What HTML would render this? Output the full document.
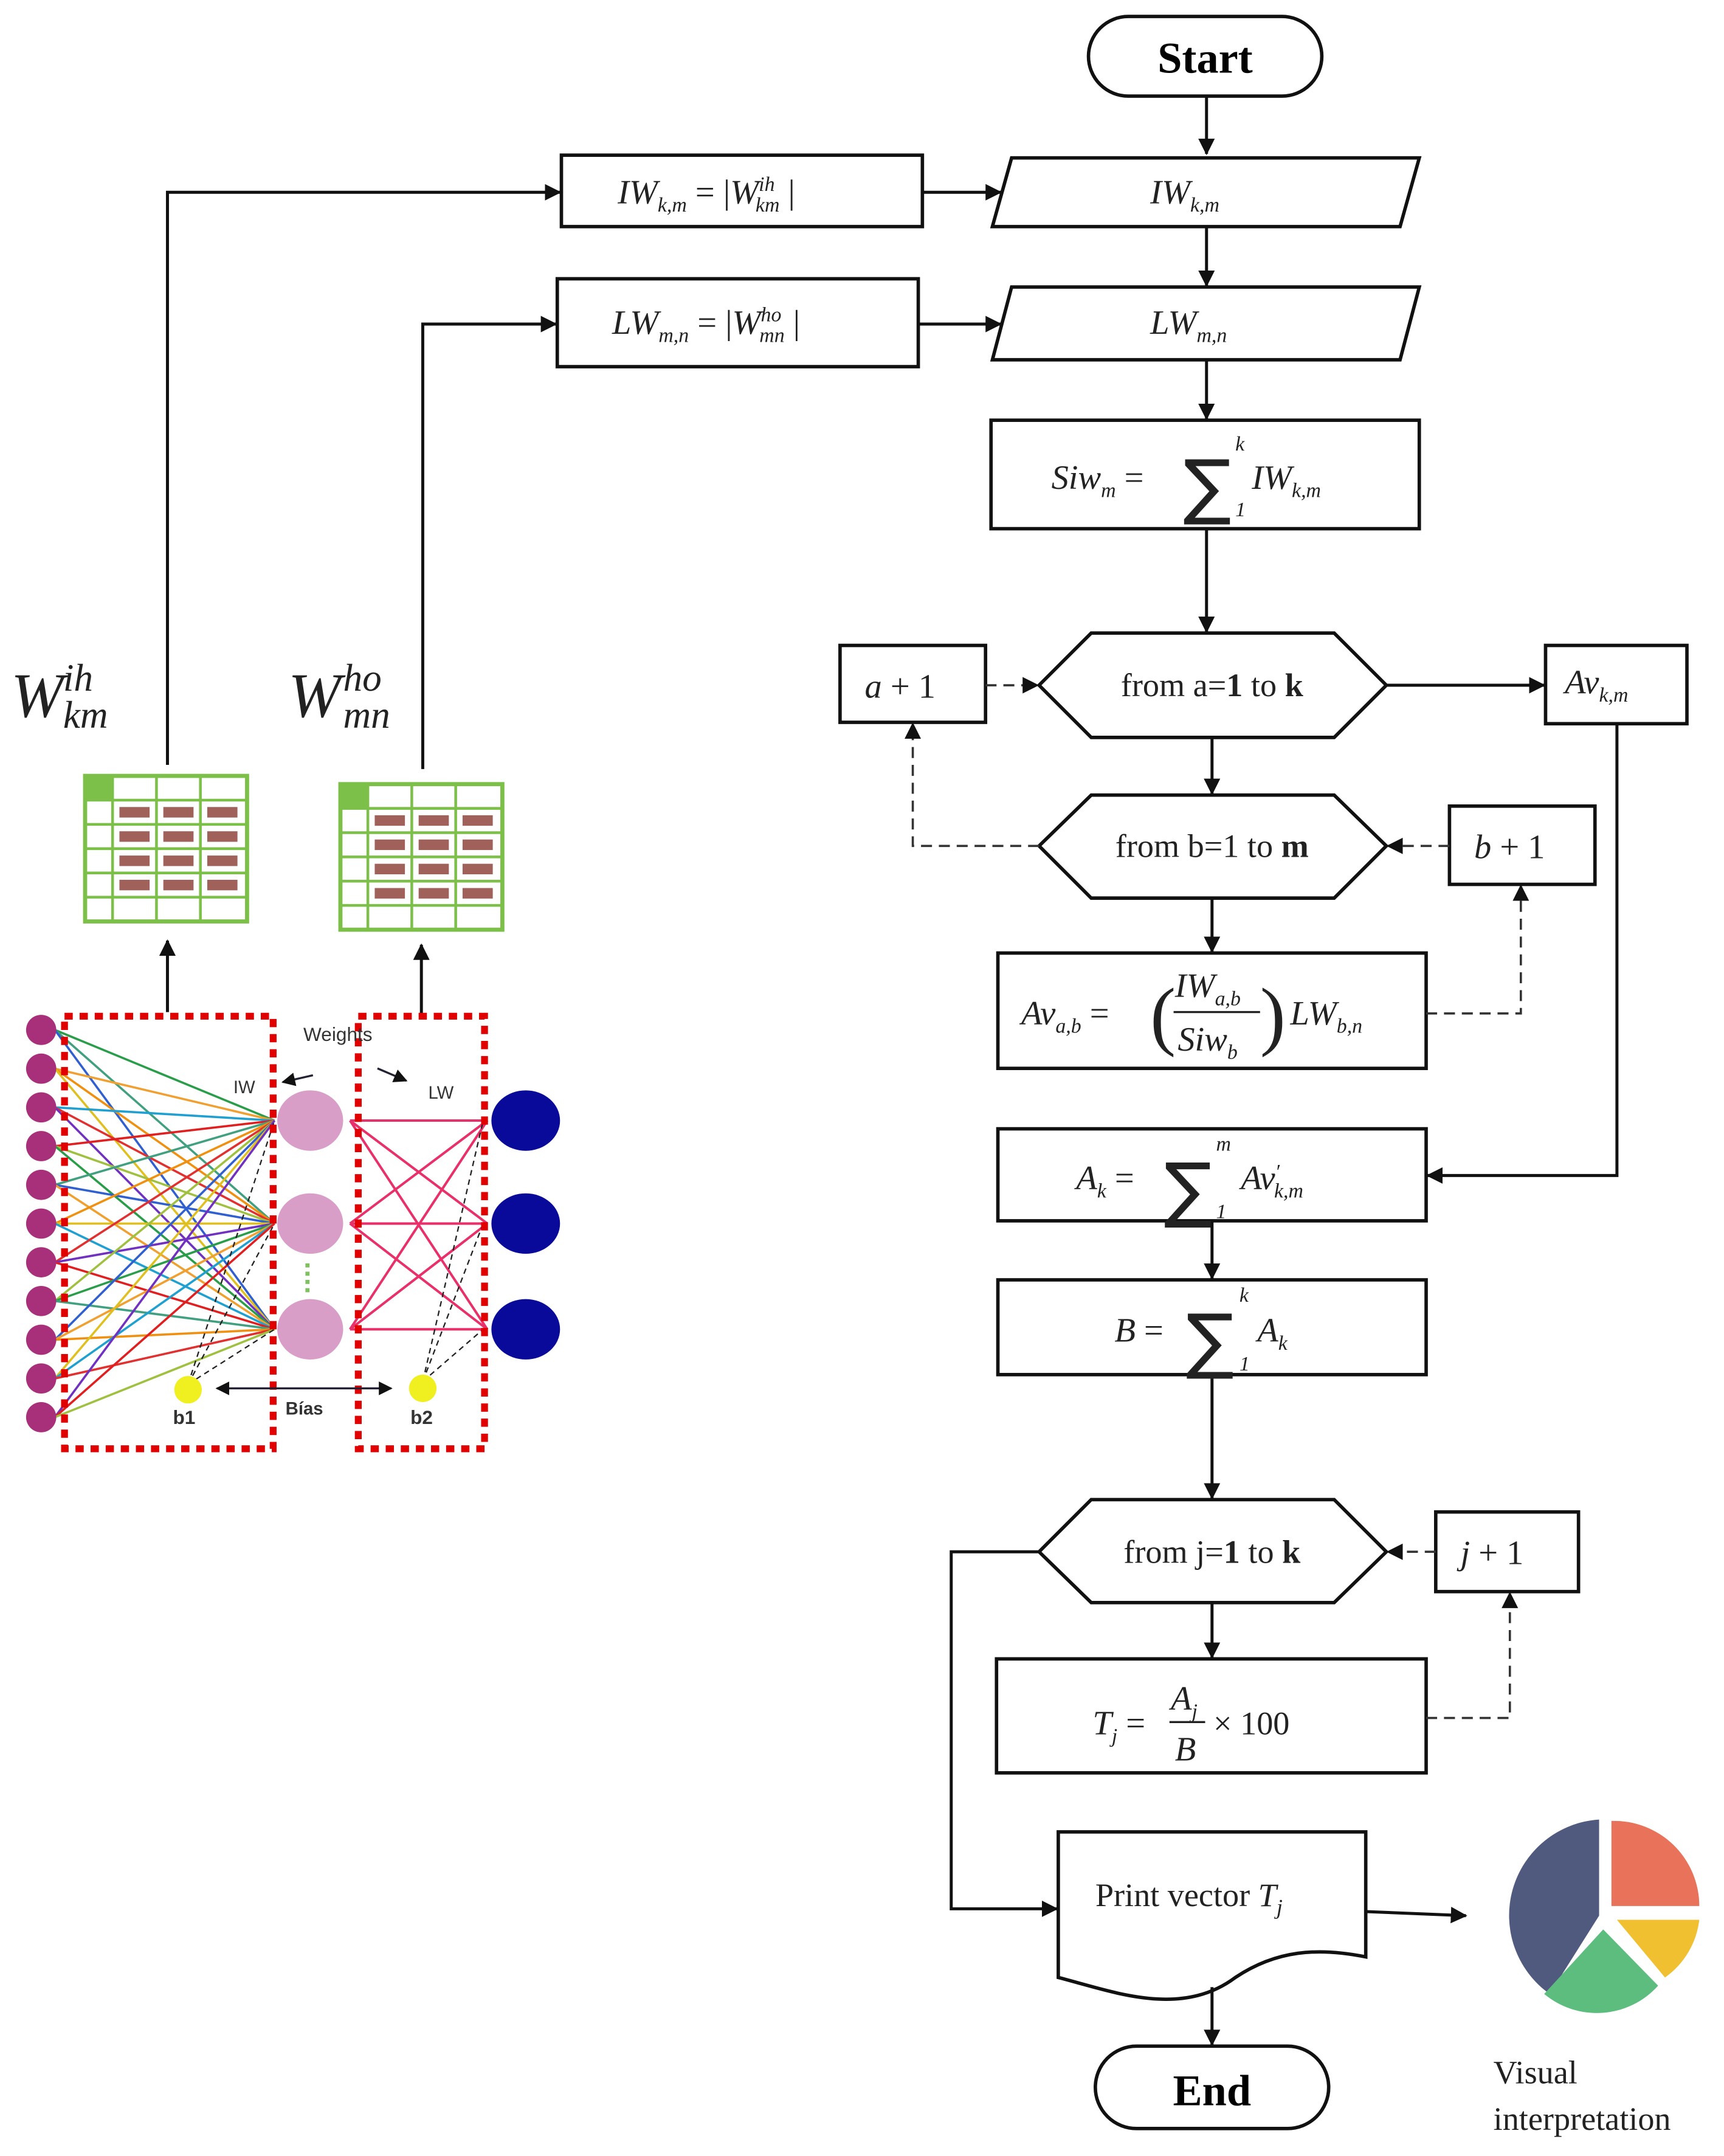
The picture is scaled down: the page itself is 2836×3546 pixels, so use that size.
<!DOCTYPE html>
<html><head><meta charset="utf-8"><style>
html,body{margin:0;padding:0;background:#fff;}
svg{display:block;}
.m{font-family:"Liberation Serif",serif;font-style:italic;font-size:25px;fill:#222;}
.s{font-size:15px;}
.r{font-family:"Liberation Serif",serif;font-size:24px;fill:#222;}
</style></head><body>
<svg id="sv" width="2836" height="3546" viewBox="0 0 1256 1570" preserveAspectRatio="none" xmlns="http://www.w3.org/2000/svg">
<defs>
<marker id="a" markerWidth="10" markerHeight="10" refX="9" refY="5" orient="auto-start-reverse" markerUnits="userSpaceOnUse"><path d="M0,0L10,5L0,10z" fill="#111"/></marker>
<marker id="a2" markerWidth="12" markerHeight="12" refX="11" refY="6" orient="auto" markerUnits="userSpaceOnUse"><path d="M0,0L12,6L0,12z" fill="#111"/></marker>
</defs>
<rect width="1256" height="1570" fill="#fff"/>
<g fill="none" stroke="#111" stroke-width="2.5">
<rect x="793" y="12" width="170" height="58" rx="29"/>
<rect x="409" y="113" width="263" height="52"/>
<polygon points="737,115 1034,115 1020,165 723,165"/>
<rect x="406" y="203" width="263" height="64"/>
<polygon points="737,209 1034,209 1020,262 723,262"/>
<rect x="722" y="306" width="312" height="79"/>
<polygon points="757,499 795,461 972,461 1010,499 972,537 795,537"/>
<rect x="612" y="470" width="106" height="56"/>
<rect x="1126" y="470" width="103" height="57"/>
<polygon points="757,616 795,579 972,579 1010,616 972,654 795,654"/>
<rect x="1056" y="587" width="106" height="57"/>
<rect x="727" y="694" width="312" height="84"/>
<rect x="727" y="822" width="312" height="67"/>
<rect x="727" y="932" width="312" height="69"/>
<polygon points="757,1130 795,1092 972,1092 1010,1130 972,1167 795,1167"/>
<rect x="1046" y="1101" width="104" height="58"/>
<rect x="726" y="1208" width="313" height="83"/>
<path d="M771,1334H995V1425C960,1418 930,1420 900,1440C860,1470 810,1450 771,1440Z"/>
<rect x="798" y="1490" width="170" height="60" rx="30"/>
</g>
<g fill="none" stroke="#111" stroke-width="2.2">
<path d="M879,70V112" marker-end="url(#a2)"/>
<path d="M672,140H729" marker-end="url(#a2)"/>
<path d="M879,165V208" marker-end="url(#a2)"/>
<path d="M669,236H729" marker-end="url(#a2)"/>
<path d="M879,262V305" marker-end="url(#a2)"/>
<path d="M879,385V460" marker-end="url(#a2)"/>
<path d="M1010,499H1125" marker-end="url(#a2)"/>
<path d="M883,537V578" marker-end="url(#a2)"/>
<path d="M883,654V693" marker-end="url(#a2)"/>
<path d="M1178,527V856H1040" marker-end="url(#a2)"/>
<path d="M883,889V931" marker-end="url(#a2)"/>
<path d="M883,1001V1091" marker-end="url(#a2)"/>
<path d="M883,1167V1207" marker-end="url(#a2)"/>
<path d="M757,1130H693V1390H770" marker-end="url(#a2)"/>
<path d="M995,1392L1068,1395" marker-end="url(#a2)"/>
<path d="M883,1447V1489" marker-end="url(#a2)"/>
<path d="M122,557V140H408" marker-end="url(#a2)"/>
<path d="M308,560V236H405" marker-end="url(#a2)"/>
<path d="M122,737V685" marker-end="url(#a2)"/>
<path d="M307,740V688" marker-end="url(#a2)"/>
</g>
<g fill="none" stroke="#333" stroke-width="1.6" stroke-dasharray="8,5">
<path d="M718,499H756" marker-end="url(#a2)"/>
<path d="M757,616H665V527" marker-end="url(#a2)"/>
<path d="M1056,616H1011" marker-end="url(#a2)"/>
<path d="M1039,738H1108V645" marker-end="url(#a2)"/>
<path d="M1039,1251H1100V1160" marker-end="url(#a2)"/>
<path d="M1046,1130H1011" marker-end="url(#a2)"/>
</g>
<text x="878" y="53" text-anchor="middle" font-family="Liberation Serif,serif" font-weight="bold" font-size="32">Start</text>
<text x="883" y="1533" text-anchor="middle" font-family="Liberation Serif,serif" font-weight="bold" font-size="32">End</text>
<text x="450" y="148" class="m">IW<tspan class="s" dy="6">k,m</tspan><tspan dy="-6" font-style="normal"> = |</tspan>W<tspan class="s" dy="-9">ih</tspan><tspan class="s" dx="-14" dy="15">km</tspan><tspan dy="-6" font-style="normal"> |</tspan></text>
<text x="838" y="148" class="m">IW<tspan class="s" dy="6">k,m</tspan></text>
<text x="446" y="243" class="m">LW<tspan class="s" dy="6">m,n</tspan><tspan dy="-6" font-style="normal"> = |</tspan>W<tspan class="s" dy="-9">ho</tspan><tspan class="s" dx="-16" dy="15">mn</tspan><tspan dy="-6" font-style="normal"> |</tspan></text>
<text x="838" y="243" class="m">LW<tspan class="s" dy="6">m,n</tspan></text>
<text x="766" y="356" class="m">Siw<tspan class="s" dy="6">m</tspan><tspan dy="-6" font-style="normal">  = </tspan></text>
<text x="862" y="372" font-family="DejaVu Sans,sans-serif" font-size="52" fill="#222">∑</text>
<text x="900" y="328" class="m s">k</text><text x="900" y="376" class="m s">1</text>
<text x="912" y="356" class="m">IW<tspan class="s" dy="6">k,m</tspan></text>
<text x="883" y="507" text-anchor="middle" class="r">from a=<tspan font-weight="bold">1</tspan> to <tspan font-weight="bold">k</tspan></text>
<text x="883" y="624" text-anchor="middle" class="r">from b=1 to <tspan font-weight="bold">m</tspan></text>
<text x="883" y="1138" text-anchor="middle" class="r">from j=<tspan font-weight="bold">1</tspan> to <tspan font-weight="bold">k</tspan></text>
<text x="630" y="508" class="m">a <tspan font-style="normal">+ 1</tspan></text>
<text x="1074" y="625" class="m">b <tspan font-style="normal">+ 1</tspan></text>
<text x="1064" y="1139" class="m">j <tspan font-style="normal">+ 1</tspan></text>
<text x="1140" y="505" class="m">Av<tspan class="s" dy="6">k,m</tspan></text>
<text x="744" y="746" class="m">Av<tspan class="s" dy="6">a,b</tspan><tspan dy="-6" font-style="normal">  = </tspan></text>
<text x="838" y="758" font-family="Liberation Serif,serif" font-size="56" fill="#222">(</text>
<text x="856" y="726" class="m">IW<tspan class="s" dy="6">a,b</tspan></text>
<line x1="855" y1="737" x2="918" y2="737" stroke="#222" stroke-width="1.5"/>
<text x="858" y="765" class="m">Siw<tspan class="s" dy="6">b</tspan></text>
<text x="918" y="758" font-family="Liberation Serif,serif" font-size="56" fill="#222">)</text>
<text x="940" y="746" class="m">LW<tspan class="s" dy="6">b,n</tspan></text>
<text x="784" y="866" class="m">A<tspan class="s" dy="6">k</tspan><tspan dy="-6" font-style="normal"> = </tspan></text>
<text x="848" y="884" font-family="DejaVu Sans,sans-serif" font-size="52" fill="#222">∑</text>
<text x="886" y="838" class="m s">m</text><text x="886" y="887" class="m s">1</text>
<text x="904" y="866" class="m">Av<tspan class="s" dy="-8">′</tspan><tspan class="s" dx="-4" dy="14">k,m</tspan></text>
<text x="812" y="977" class="m">B<tspan font-style="normal"> = </tspan></text>
<text x="864" y="994" font-family="DejaVu Sans,sans-serif" font-size="52" fill="#222">∑</text>
<text x="903" y="948" class="m s">k</text><text x="903" y="998" class="m s">1</text>
<text x="916" y="977" class="m">A<tspan class="s" dy="6">k</tspan></text>
<text x="796" y="1263" class="m">T<tspan class="s" dy="6">j</tspan><tspan dy="-6" font-style="normal"> = </tspan></text>
<text x="853" y="1245" class="m">A<tspan class="s" dy="6">j</tspan></text>
<line x1="852" y1="1254" x2="878" y2="1254" stroke="#222" stroke-width="1.5"/>
<text x="856" y="1282" class="m">B</text>
<text x="884" y="1263" class="r">× 100</text>
<text x="798" y="1388" class="r" font-size="26">Print vector <tspan font-style="italic">T</tspan><tspan font-style="italic" font-size="16" dy="6">j</tspan></text>
<g>
<path d="M1165,1395L1165,1325A70,70 0 0 0 1129,1452Z" fill="#4f5a7e"/>
<path d="M1174,1388L1174,1326A62,62 0 0 1 1238,1388Z" fill="#e8735a"/>
<path d="M1178,1398L1238,1398A60,60 0 0 1 1213,1440Z" fill="#f0c030"/>
<path d="M1168,1405L1208,1446A60,60 0 0 1 1125,1452Z" fill="#5cbd7e"/>
</g>
<text x="1088" y="1517" class="r" font-size="26">Visual</text>
<text x="1088" y="1551" class="r" font-size="26">interpretation</text>
<text x="8" y="522" font-family="Liberation Serif,serif" font-style="italic" font-size="46" fill="#222">W</text>
<text x="46" y="503" font-family="Liberation Serif,serif" font-style="italic" font-size="28" fill="#222">ih</text>
<text x="46" y="530" font-family="Liberation Serif,serif" font-style="italic" font-size="28" fill="#222">km</text>
<text x="210" y="522" font-family="Liberation Serif,serif" font-style="italic" font-size="46" fill="#222">W</text>
<text x="250" y="503" font-family="Liberation Serif,serif" font-style="italic" font-size="28" fill="#222">ho</text>
<text x="250" y="530" font-family="Liberation Serif,serif" font-style="italic" font-size="28" fill="#222">mn</text>
<g id="tables"></g>
<g id="nn"></g>
</svg>
<script>
var NS="http://www.w3.org/2000/svg";
function el(p,t,a){var e=document.createElementNS(NS,t);for(var k in a)e.setAttribute(k,a[k]);p.appendChild(e);return e;}
var T=document.getElementById("tables");
[[62,565],[248,571]].forEach(function(o){
 var x=o[0],y=o[1],w=118,h=106;
 el(T,"rect",{x:x,y:y,width:w,height:h,fill:"#fff",stroke:"#7cc04a","stroke-width":3});
 for(var i=1;i<6;i++)el(T,"line",{x1:x,y1:y+i*h/6,x2:x+w,y2:y+i*h/6,stroke:"#7cc04a","stroke-width":2});
 [20,52,84].forEach(function(c){el(T,"line",{x1:x+c,y1:y,x2:x+c,y2:y+h,stroke:"#7cc04a","stroke-width":2});});
 el(T,"rect",{x:x,y:y,width:20,height:h/6,fill:"#7cc04a"});
 for(var r=1;r<5;r++)[20,52,84].forEach(function(c){el(T,"rect",{x:x+c+5,y:y+r*h/6+5,width:22,height:h/6-10,fill:"#a0615a"});});
});
var N=document.getElementById("nn");
var cols=["#2a9d4a","#f0a030","#20a0d0","#e02020","#40a080","#f09010","#e03030","#a0c040","#3060d0","#e0c020","#7030c0"];
var hid=[[200,816],[200,891],[200,968]];
for(var i=0;i<11;i++){var y=750+i*28.2;
 hid.forEach(function(h,j){el(N,"line",{x1:40,y1:y,x2:h[0],y2:h[1],stroke:cols[(i+j*4)%11],"stroke-width":1.6});});}
[816,891,968].forEach(function(a){[816,891,968].forEach(function(b){el(N,"line",{x1:255,y1:a,x2:355,y2:b,stroke:"#e8306a","stroke-width":1.8});});});
hid.forEach(function(h){el(N,"line",{x1:137,y1:1008,x2:h[0],y2:h[1],stroke:"#222","stroke-width":1,"stroke-dasharray":"4,3"});});
[816,891,968].forEach(function(b){el(N,"line",{x1:308,y1:1006,x2:352,y2:b,stroke:"#222","stroke-width":1,"stroke-dasharray":"4,3"});});
el(N,"rect",{x:47,y:740,width:152,height:315,fill:"none",stroke:"#e00000","stroke-width":5,"stroke-dasharray":"6,5"});
el(N,"rect",{x:261,y:740,width:92,height:315,fill:"none",stroke:"#e00000","stroke-width":5,"stroke-dasharray":"6,5"});
for(var i=0;i<11;i++)el(N,"circle",{cx:30,cy:750+i*28.2,r:11,fill:"#a8307a"});
[816,891,968].forEach(function(y){el(N,"ellipse",{cx:226,cy:y,rx:24,ry:22,fill:"#d89ec8"});el(N,"ellipse",{cx:383,cy:y,rx:25,ry:22,fill:"#0a0a9a"});});
el(N,"line",{x1:224,y1:920,x2:224,y2:942,stroke:"#80c060","stroke-width":3,"stroke-dasharray":"3,3"});
el(N,"circle",{cx:137,cy:1012,r:10,fill:"#f0f020"});el(N,"circle",{cx:308,cy:1011,r:10,fill:"#f0f020"});
el(N,"line",{x1:158,y1:1011,x2:285,y2:1011,stroke:"#223","stroke-width":1.5,"marker-end":"url(#a)","marker-start":"url(#a)"});
function tx(x,y,s,f,b){var t=el(N,"text",{x:x,y:y,"font-family":"Liberation Sans,sans-serif","font-size":f,fill:"#333","font-weight":b?"bold":"normal"});t.textContent=s;}
tx(221,758,"Weights",14);tx(170,796,"IW",13);tx(312,800,"LW",13);
tx(126,1037,"b1",14,1);tx(208,1030,"Bías",13,1);tx(299,1037,"b2",14,1);
el(N,"line",{x1:228,y1:783,x2:206,y2:788,stroke:"#223","stroke-width":1.5,"marker-end":"url(#a)"});
el(N,"line",{x1:275,y1:778,x2:296,y2:787,stroke:"#223","stroke-width":1.5,"marker-end":"url(#a)"});
</script>
</body></html>
